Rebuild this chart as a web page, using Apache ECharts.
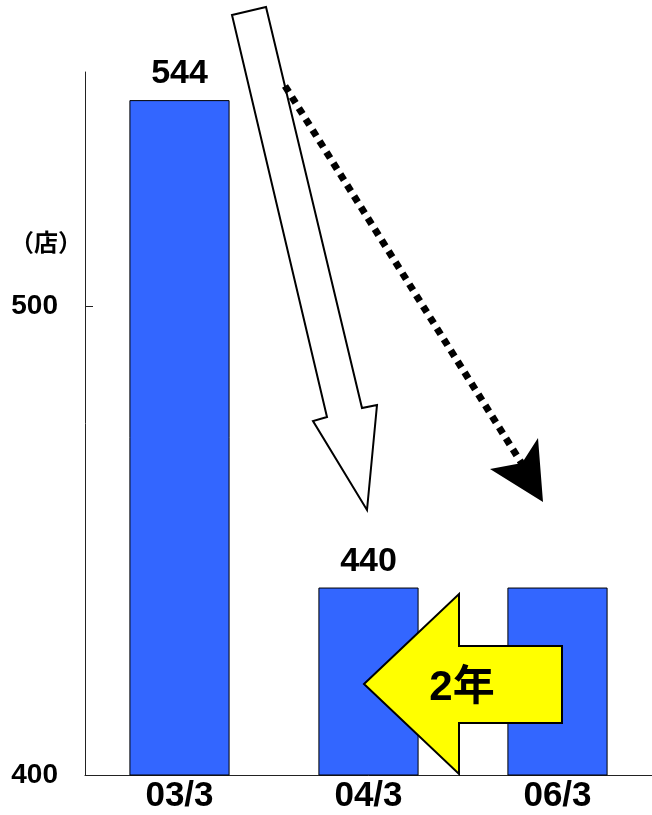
<!DOCTYPE html>
<html>
<head>
<meta charset="utf-8">
<script src="https://cdn.jsdelivr.net/npm/echarts@6/dist/echarts.min.js"></script>
<style>
    html, body { margin: 0; padding: 0; background: #fff; }
    #storeChart { width: 652px; height: 815px; }
</style>
</head>
<body>
<div id="storeChart"></div>
<script>
// data
var periods = ['03/3', '04/3', '06/3'];
var storeCounts = [544, 440, 440];
var showValue = [true, true, false];
var yTicks = [400, 500];
var unitText = '（店）';
var arrowText = '2年';

var storeChart = echarts.init(document.getElementById('storeChart'));
var barColor = '#3366ff';
var latin = '"Liberation Sans", Arial, sans-serif';
var cjk = '"Liberation Sans", "Noto Sans CJK JP", sans-serif';

var barData = storeCounts.map(function (v, i) {
    return {
        value: v,
        label: {show: showValue[i]}
    };
});

var option = {
    animation: false,
    grid: {
        left: 85,
        right: 0,
        top: 72,
        bottom: 40
    },
    xAxis: {
        type: 'category',
        data: periods,
        axisLine: {
            lineStyle: {color: '#222', width: 1}
        },
        axisTick: {
            inside: true,
            length: 8,
            lineStyle: {color: '#222'}
        },
        axisLabel: {
            margin: 4,
            color: '#000',
            fontFamily: latin,
            fontWeight: 'bold',
            fontSize: 35
        }
    },
    yAxis: {
        type: 'value',
        min: 400,
        max: 550,
        interval: 100,
        splitLine: {show: false},
        axisLine: {
            show: true,
            lineStyle: {color: '#222', width: 1}
        },
        axisTick: {
            show: true,
            inside: true,
            length: 8,
            customValues: yTicks,
            lineStyle: {color: '#222'}
        },
        axisLabel: {
            margin: 27,
            customValues: yTicks,
            color: '#000',
            fontFamily: latin,
            fontWeight: 'bold',
            fontSize: 28
        }
    },
    series: [{
        name: '店舗数',
        type: 'bar',
        barWidth: '53%',
        data: barData,
        itemStyle: {
            color: barColor,
            borderColor: '#000',
            borderWidth: 1
        },
        label: {
            position: 'top',
            distance: 9,
            color: '#000',
            fontFamily: latin,
            fontWeight: 'bold',
            fontSize: 34
        }
    }],
    graphic: [
        // unit
        {
            type: 'text',
            left: 10,
            top: 230,
            z: 100,
            style: {
                text: unitText,
                fill: '#000',
                font: 'bold 24px "Noto Sans CJK JP", sans-serif'
            }
        },
        // big white arrow
        {
            type: 'polygon',
            z: 100,
            shape: {
                points: [[232, 15], [266, 7], [362, 408], [377, 405], [367, 510], [313, 421], [327, 417]]
            },
            style: {fill: '#fff', stroke: '#000', lineWidth: 2}
        },
        // dotted arrow
        {
            type: 'line',
            z: 100,
            shape: {x1: 285, y1: 86, x2: 522, y2: 464},
            style: {stroke: '#000', lineWidth: 7, lineDash: [7, 6], lineCap: 'butt'}
        },
        {
            type: 'polygon',
            z: 101,
            shape: {
                points: [[490, 469], [522, 463], [538, 438], [543, 502]]
            },
            style: {fill: '#000'}
        },
        // yellow arrow
        {
            type: 'polygon',
            z: 100,
            shape: {
                points: [[364, 684], [459, 594], [459, 646], [562, 646], [562, 723], [459, 723], [459, 774]]
            },
            style: {fill: '#ffff00', stroke: '#000', lineWidth: 2}
        },
        {
            type: 'text',
            z: 101,
            x: 462,
            y: 688,
            style: {
                text: arrowText,
                fill: '#000',
                font: 'bold 42px ' + cjk,
                align: 'center',
                verticalAlign: 'middle'
            }
        }
    ]
};

storeChart.setOption(option);
</script>
</body>
</html>
